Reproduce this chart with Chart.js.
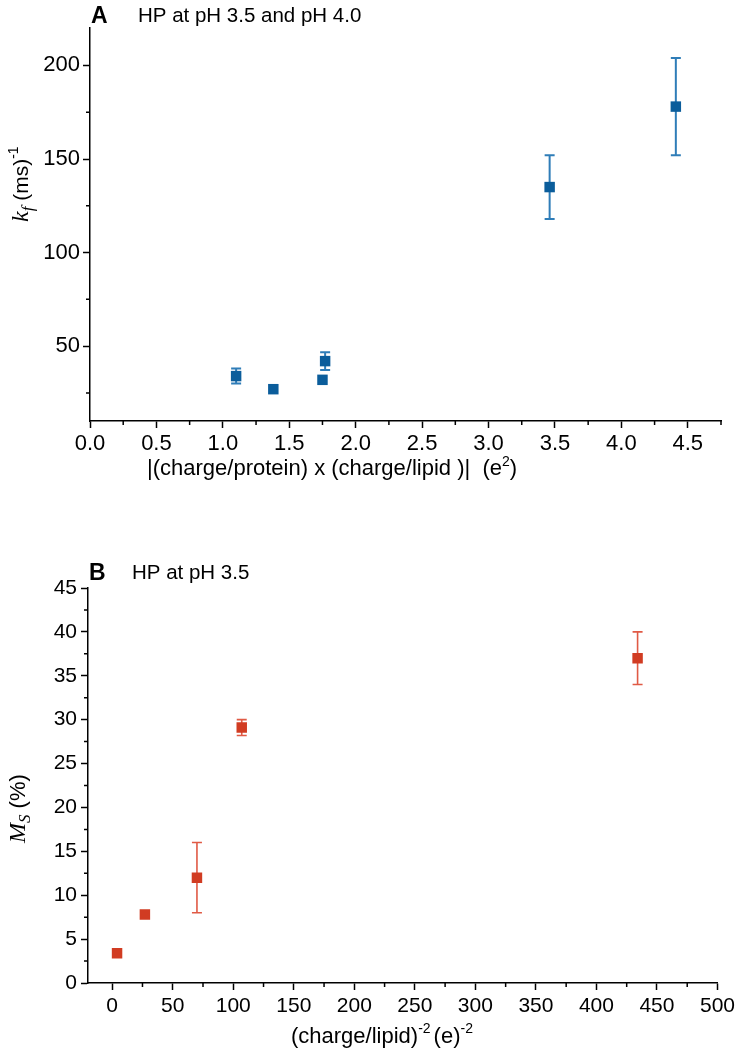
<!DOCTYPE html>
<html>
<head>
<meta charset="utf-8">
<script src="https://cdn.jsdelivr.net/npm/chart.js@4.4.0/dist/chart.umd.min.js"></script>
<style>
  html, body { margin: 0; padding: 0; background: #fff; }
  #wrap { position: relative; width: 739px; height: 1050px; }
  canvas { position: absolute; left: 0; }
  #chartA { top: 0; }
  #chartB { top: 480px; }
</style>
</head>
<body>
<div id="wrap">
  <canvas id="chartA" width="739" height="480"></canvas>
  <canvas id="chartB" width="739" height="570"></canvas>
</div>
<script>
// Panel A: k_f vs |(charge/protein) x (charge/lipid)|
const xA = [1.10, 1.38, 1.75, 1.77, 3.46, 4.41];
const yA = [34, 27, 32, 42, 135, 178];
const errA = [4, 0, 0, 4.7, 17, 26];
const xTicksA = [0, 0.5, 1.0, 1.5, 2.0, 2.5, 3.0, 3.5, 4.0, 4.5];
const xMinorA = [0.25, 0.75, 1.25, 1.75, 2.25, 2.75, 3.25, 3.75, 4.25, 4.75];
const yTicksA = [50, 100, 150, 200];
const yMinorA = [25, 75, 125, 175];

// Panel B: M_S vs (charge/lipid)^-2
const xB = [4, 27, 70, 107, 434];
const yB = [3.4, 7.8, 12, 29.1, 37];
const errB = [0, 0, 4, 0.9, 3];
const xTicksB = [0, 50, 100, 150, 200, 250, 300, 350, 400, 450, 500];
const xMinorB = [25, 75, 125, 175, 225, 275, 325, 375, 425, 475];
const yTicksB = [0, 5, 10, 15, 20, 25, 30, 35, 40, 45];
const yMinorB = [2.5, 7.5, 12.5, 17.5, 22.5, 27.5, 32.5, 37.5, 42.5];

const SANS = "'Liberation Sans', Arial, sans-serif";
const SERIF = "'Liberation Serif', 'Times New Roman', serif";

const errorBars = {
  id: 'errorBars',
  beforeDatasetsDraw(chart, args, opts) {
    const { ctx, scales: { x, y } } = chart;
    const pts = chart.data.datasets[0].data;
    ctx.save();
    ctx.strokeStyle = opts.color;
    ctx.lineWidth = opts.width;
    pts.forEach((p, i) => {
      const e = opts.errors[i];
      if (!e) return;
      const px = x.getPixelForValue(p.x);
      const top = y.getPixelForValue(p.y + e);
      const bot = y.getPixelForValue(p.y - e);
      ctx.beginPath();
      ctx.moveTo(px, top); ctx.lineTo(px, bot);
      ctx.moveTo(px - opts.cap, top); ctx.lineTo(px + opts.cap, top);
      ctx.moveTo(px - opts.cap, bot); ctx.lineTo(px + opts.cap, bot);
      ctx.stroke();
    });
    ctx.restore();
  }
};

const minorTicks = {
  id: 'minorTicks',
  afterDraw(chart, args, opts) {
    const { ctx, chartArea: a, scales: { x, y } } = chart;
    ctx.save();
    ctx.strokeStyle = '#000';
    ctx.lineWidth = 1.5;
    ctx.beginPath();
    opts.x.forEach(v => {
      const px = x.getPixelForValue(v);
      ctx.moveTo(px, a.bottom); ctx.lineTo(px, a.bottom + opts.len);
    });
    opts.y.forEach(v => {
      const py = y.getPixelForValue(v);
      ctx.moveTo(a.left, py); ctx.lineTo(a.left - opts.len, py);
    });
    ctx.stroke();
    ctx.restore();
  }
};

// draws a run of text pieces (for sub/superscripts), optionally rotated
function drawRich(ctx, parts, x, y, angle) {
  ctx.save();
  ctx.translate(x, y);
  ctx.rotate(angle || 0);
  ctx.textAlign = 'left';
  ctx.textBaseline = 'alphabetic';
  ctx.fillStyle = '#000';
  let cx = 0;
  parts.forEach(p => {
    ctx.font = p.font;
    cx += p.dx || 0;
    ctx.fillText(p.text, cx, p.dy || 0);
    cx += ctx.measureText(p.text).width;
  });
  ctx.restore();
}

function axis(min, max, ticks, fmt, fontSize, pad, fitKey, fitVal) {
  return {
    type: 'linear',
    min: min,
    max: max,
    border: { display: true, color: '#000', width: 1.5 },
    grid: { drawOnChartArea: false, drawTicks: true, tickLength: 7, tickColor: '#000', tickWidth: 1.5 },
    ticks: { color: '#000', font: { family: SANS, size: fontSize }, padding: pad, maxRotation: 0, autoSkip: false, callback: fmt },
    afterBuildTicks: s => { s.ticks = ticks.map(v => ({ value: v })); },
    afterFit: s => { s[fitKey] = fitVal; }
  };
}

function makeChart(id, xs, ys, color, cfg) {
  return new Chart(document.getElementById(id), {
    type: 'scatter',
    data: {
      datasets: [{
        data: xs.map((x, i) => ({ x: x, y: ys[i] })),
        pointStyle: 'rect',
        pointRadius: 7.4,
        pointHoverRadius: 7.4,
        backgroundColor: color,
        borderColor: color,
        borderWidth: 0
      }]
    },
    options: {
      responsive: false,
      animation: false,
      events: [],
      layout: { padding: cfg.padding },
      scales: { x: cfg.x, y: cfg.y },
      plugins: {
        legend: { display: false },
        tooltip: { enabled: false },
        errorBars: cfg.err,
        minorTicks: cfg.minor
      }
    },
    plugins: [errorBars, minorTicks, { id: 'text', afterDraw: c => cfg.text(c.ctx) }]
  });
}

makeChart('chartA', xA, yA, '#0b5d9b', {
  padding: { left: 0, right: 18, top: 28, bottom: 0 },
  x: axis(0, 4.75, xTicksA, v => v.toFixed(1), 22, 3, 'height', 59),
  y: axis(10, 220, yTicksA, v => String(v), 22, 3, 'width', 90),
  err: { errors: errA, color: '#2f7db8', width: 2, cap: 5 },
  minor: { x: xMinorA, y: yMinorA, len: 4 },
  text: ctx => {
    ctx.save();
    ctx.fillStyle = '#000';
    ctx.font = 'bold 23px ' + SANS;
    ctx.fillText('A', 91, 23);
    ctx.font = '20.5px ' + SANS;
    ctx.fillText('HP at pH 3.5 and pH 4.0', 138, 22);
    ctx.restore();
    drawRich(ctx, [
      { text: '|(charge/protein) x (charge/lipid )|  (e', font: '22px ' + SANS },
      { text: '2', font: '14px ' + SANS, dy: -9 },
      { text: ')', font: '22px ' + SANS }
    ], 147, 475, 0);
    drawRich(ctx, [
      { text: 'k', font: 'italic 24px ' + SERIF },
      { text: 'f', font: 'italic 17px ' + SERIF, dy: 5 },
      { text: ' (ms)', font: '21px ' + SANS },
      { text: '-1', font: '14px ' + SANS, dy: -10 }
    ], 28, 222, -Math.PI / 2);
  }
});

makeChart('chartB', xB, yB, '#d13c22', {
  padding: { left: 0, right: 20, top: 108, bottom: 0 },
  x: axis(-20, 500, xTicksB, v => String(v), 21, 4, 'height', 67),
  y: axis(0, 45, yTicksB, v => String(v), 21, 4, 'width', 88),
  err: { errors: errB, color: '#e05a45', width: 1.6, cap: 5 },
  minor: { x: xMinorB, y: yMinorB, len: 4 },
  text: ctx => {
    ctx.save();
    ctx.fillStyle = '#000';
    ctx.font = 'bold 23px ' + SANS;
    ctx.fillText('B', 89, 100);
    ctx.font = '20.5px ' + SANS;
    ctx.fillText('HP at pH 3.5', 132, 99);
    ctx.restore();
    drawRich(ctx, [
      { text: '(charge/lipid)', font: '22px ' + SANS },
      { text: '-2', font: '14px ' + SANS, dy: -10 },
      { text: '(e)', font: '22px ' + SANS, dx: 3 },
      { text: '-2', font: '14px ' + SANS, dy: -10 }
    ], 291, 563, 0);
    drawRich(ctx, [
      { text: 'M', font: 'italic 24px ' + SERIF },
      { text: 'S', font: 'italic 17px ' + SERIF, dy: 5 },
      { text: ' (%)', font: '22px ' + SANS }
    ], 25, 363, -Math.PI / 2);
  }
});
</script>
</body>
</html>
